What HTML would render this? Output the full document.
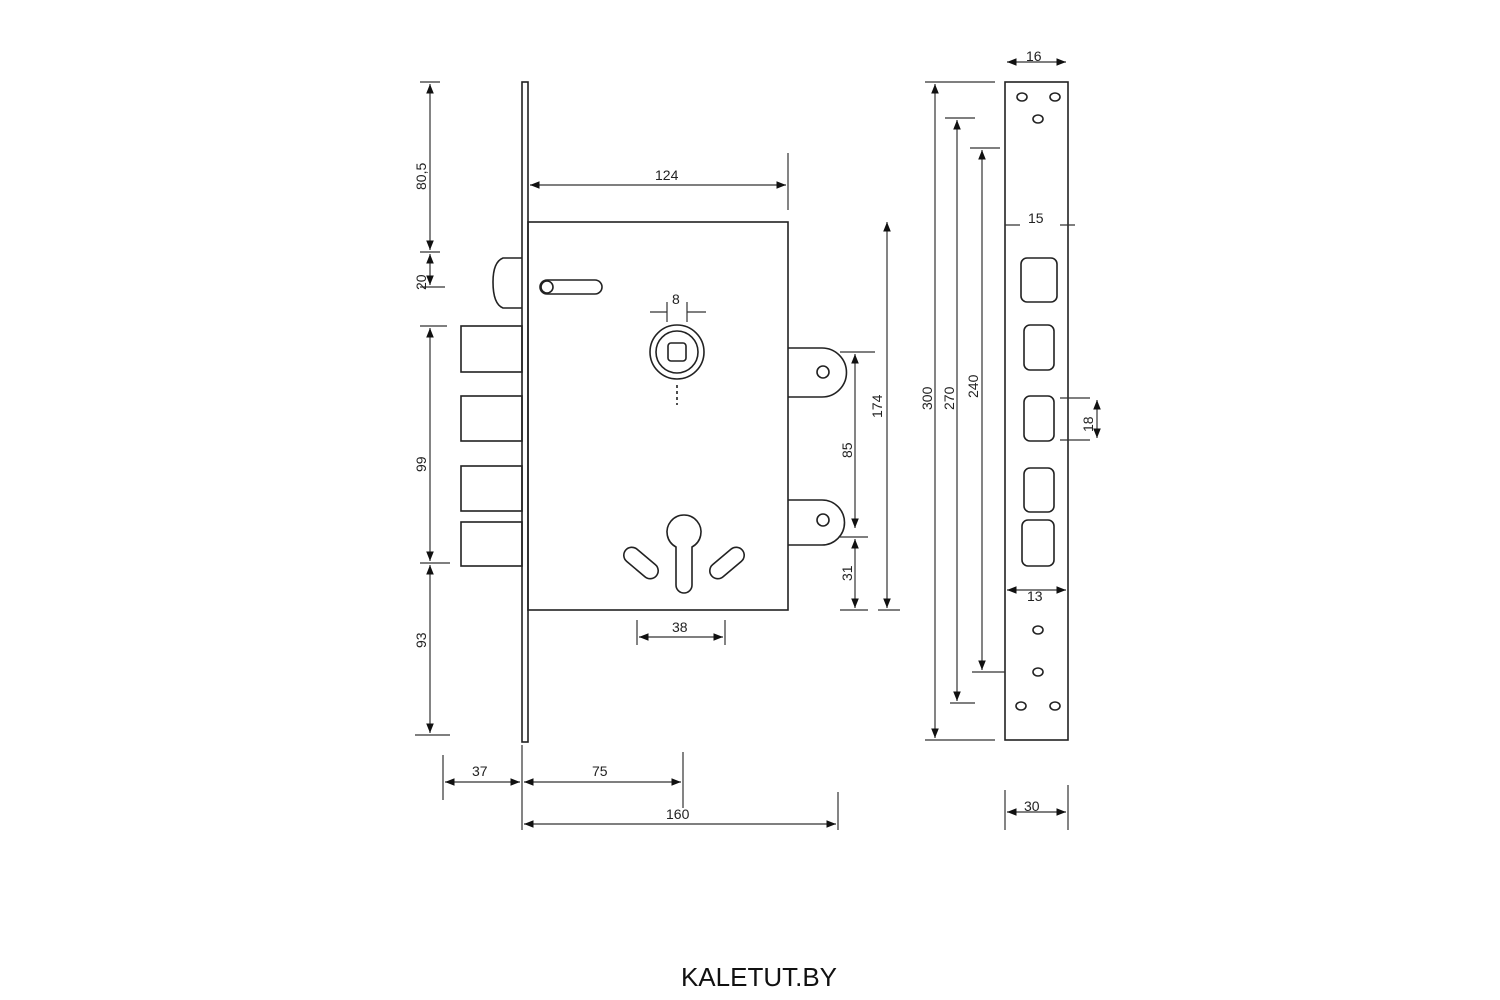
<!DOCTYPE html>
<html><head><meta charset="utf-8"><style>
html,body{margin:0;padding:0;background:#fff;width:1500px;height:1000px;overflow:hidden}
svg{display:block}
text{font-family:"Liberation Sans",sans-serif;fill:#222;font-size:14px}
</style></head><body>
<svg width="1500" height="1000" viewBox="0 0 1500 1000">
<defs>
<marker id="a" viewBox="0 0 10 10" refX="10" refY="5" markerWidth="8" markerHeight="8" orient="auto-start-reverse"><path d="M0,1 L10,5 L0,9z" fill="#111"/></marker>
</defs>
<g stroke="#222" stroke-width="1.6" fill="none">
<!-- faceplate -->
<rect x="522" y="82" width="6" height="660"/>
<!-- body -->
<rect x="528" y="222" width="260" height="388"/>
<!-- latch -->
<path d="M522,258 L503,258 Q493,262 493,282 Q493,304 503,308 L522,308"/>
<rect x="540" y="280" width="62" height="14" rx="7"/>
<circle cx="547" cy="287" r="6"/>
<!-- spindle -->
<circle cx="677" cy="352" r="27"/>
<circle cx="677" cy="352" r="21"/>
<rect x="668" y="343" width="18" height="18" rx="3"/>
<path d="M677,385 V405" stroke-dasharray="3,3"/>
<!-- bolts -->
<rect x="461" y="326" width="61" height="46"/>
<rect x="461" y="396" width="61" height="45"/>
<rect x="461" y="466" width="61" height="45"/>
<rect x="461" y="522" width="61" height="44"/>
<!-- lugs -->
<path d="M788,348 H822 A24.5,24.5 0 0 1 822,397 H788"/>
<circle cx="823" cy="372" r="6"/>
<path d="M788,500 H822 A22.5,22.5 0 0 1 822,545 H788"/>
<circle cx="823" cy="520" r="6"/>
<!-- keyhole -->
<path d="M676,547 A17,17 0 1 1 692,547 L692,585 A8,8 0 0 1 676,585 Z"/>
<rect x="621" y="555" width="40" height="16" rx="8" transform="rotate(40 641 563)"/>
<rect x="707" y="555" width="40" height="16" rx="8" transform="rotate(-40 727 563)"/>
<!-- strike plate -->
<rect x="1005" y="82" width="63" height="658"/>
<rect x="1021" y="258" width="36" height="44" rx="6"/>
<rect x="1024" y="325" width="30" height="45" rx="6"/>
<rect x="1024" y="396" width="30" height="45" rx="6"/>
<rect x="1024" y="468" width="30" height="44" rx="6"/>
<rect x="1022" y="520" width="32" height="46" rx="6"/>
<ellipse cx="1022" cy="97" rx="5" ry="4"/><ellipse cx="1055" cy="97" rx="5" ry="4"/>
<ellipse cx="1038" cy="119" rx="5" ry="4"/>
<ellipse cx="1038" cy="630" rx="5" ry="4"/><ellipse cx="1038" cy="672" rx="5" ry="4"/>
<ellipse cx="1021" cy="706" rx="5" ry="4"/><ellipse cx="1055" cy="706" rx="5" ry="4"/>
</g>
<g stroke="#333" stroke-width="1.2" fill="none">
<!-- extension lines -->
<path d="M420,82 H440 M420,252 H440 M420,287 H445 M420,326 H447 M420,563 H450 M415,735 H450"/>
<path d="M788,153 V210 M443,755 V800 M683,752 V808 M838,792 V830 M522,745 V830"/>
<path d="M667,302 V322 M687,302 V322 M637,620 V645 M725,620 V645"/>
<path d="M840,352 H875 M840,537 H868 M840,610 H868 M878,610 H900"/>
<path d="M925,82 H995 M945,118 H975 M970,148 H1000 M950,703 H975 M972,672 H1005 M925,740 H995"/>
<path d="M1060,398 H1090 M1060,440 H1090 M1005,790 V830 M1068,785 V830"/>
<!-- dimension lines -->
<path d="M430,84 V250" marker-start="url(#a)" marker-end="url(#a)"/>
<path d="M430,254 V285" marker-start="url(#a)" marker-end="url(#a)"/>
<path d="M430,328 V561" marker-start="url(#a)" marker-end="url(#a)"/>
<path d="M430,565 V733" marker-start="url(#a)" marker-end="url(#a)"/>
<path d="M530,185 H786" marker-start="url(#a)" marker-end="url(#a)"/>
<path d="M650,312 H667 M687,312 H706"/>
<path d="M855,354 V528" marker-start="url(#a)" marker-end="url(#a)"/>
<path d="M855,539 V608" marker-start="url(#a)" marker-end="url(#a)"/>
<path d="M887,222 V608" marker-start="url(#a)" marker-end="url(#a)"/>
<path d="M639,637 H723" marker-start="url(#a)" marker-end="url(#a)"/>
<path d="M445,782 H520" marker-start="url(#a)" marker-end="url(#a)"/>
<path d="M524,782 H681" marker-start="url(#a)" marker-end="url(#a)"/>
<path d="M524,824 H836" marker-start="url(#a)" marker-end="url(#a)"/>
<path d="M935,84 V738" marker-start="url(#a)" marker-end="url(#a)"/>
<path d="M957,120 V701" marker-start="url(#a)" marker-end="url(#a)"/>
<path d="M982,150 V670" marker-start="url(#a)" marker-end="url(#a)"/>
<path d="M1007,62 H1066" marker-start="url(#a)" marker-end="url(#a)"/>
<path d="M1005,225 H1020 M1060,225 H1075"/>
<path d="M1007,590 H1066" marker-start="url(#a)" marker-end="url(#a)"/>
<path d="M1097,400 V438" marker-start="url(#a)" marker-end="url(#a)"/>
<path d="M1007,812 H1066" marker-start="url(#a)" marker-end="url(#a)"/>
</g>
<g>
<text x="655" y="180">124</text>
<text x="672" y="304">8</text>
<text x="672" y="632">38</text>
<text x="472" y="776">37</text>
<text x="592" y="776">75</text>
<text x="666" y="819">160</text>
<text x="1026" y="61">16</text>
<text x="1028" y="223">15</text>
<text x="1027" y="601">13</text>
<text x="1024" y="811">30</text>
<text transform="translate(426,190) rotate(-90)">80,5</text>
<text transform="translate(426,290) rotate(-90)">20</text>
<text transform="translate(426,472) rotate(-90)">99</text>
<text transform="translate(426,648) rotate(-90)">93</text>
<text transform="translate(852,458) rotate(-90)">85</text>
<text transform="translate(852,581) rotate(-90)">31</text>
<text transform="translate(882,418) rotate(-90)">174</text>
<text transform="translate(932,410) rotate(-90)">300</text>
<text transform="translate(954,410) rotate(-90)">270</text>
<text transform="translate(978,398) rotate(-90)">240</text>
<text transform="translate(1093,432) rotate(-90)">18</text>
<text x="759" y="986" text-anchor="middle" style="font-size:26px;fill:#111">KALETUT.BY</text>
</g>
</svg>
</body></html>
